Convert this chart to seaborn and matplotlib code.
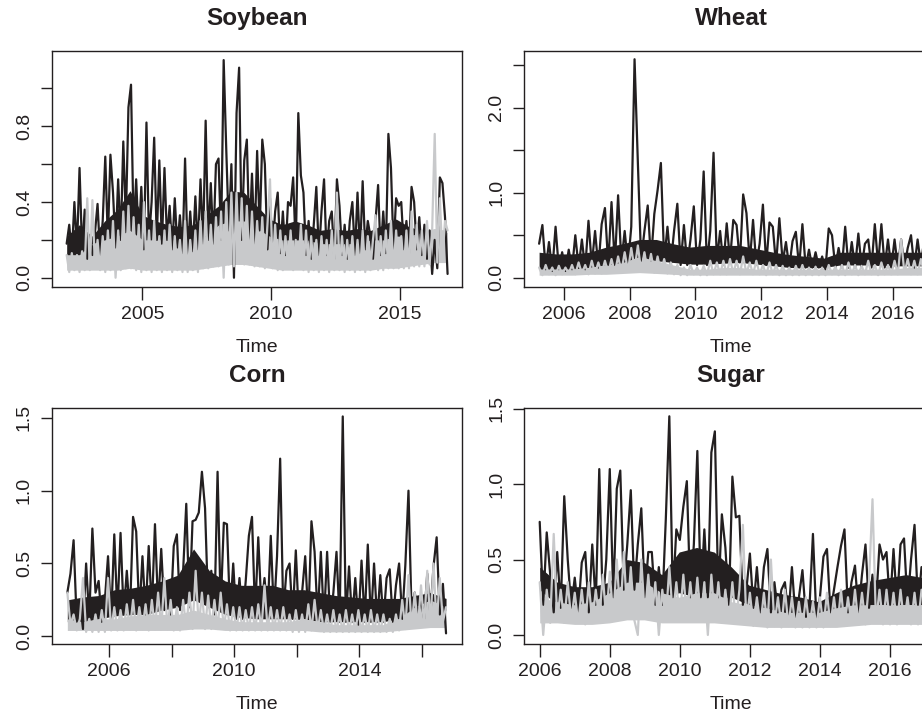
import numpy as np
import pandas as pd
import matplotlib
matplotlib.use("Agg")
import matplotlib.pyplot as plt
import seaborn as sns

# ---------------- data ----------------
# daily-looking series, sampled every 0.1 year (alternating highs / lows)
STEP = 0.1

soy_start, soy_end = 2002.06, 2016.83
soy_black = [
    0.18, 0.28, 0.12, 0.40, 0.15, 0.58, 0.14, 0.36, 0.10, 0.22,
    0.12, 0.24, 0.39, 0.12, 0.30, 0.64, 0.20, 0.65, 0.45, 0.16,
    0.52, 0.20, 0.72, 0.30, 0.90, 1.02, 0.25, 0.52, 0.20, 0.48,
    0.15, 0.82, 0.20, 0.40, 0.74, 0.20, 0.62, 0.18, 0.58, 0.20,
    0.38, 0.15, 0.42, 0.16, 0.33, 0.13, 0.63, 0.12, 0.35, 0.14,
    0.43, 0.15, 0.52, 0.18, 0.83, 0.20, 0.50, 0.18, 0.60, 0.63,
    0.20, 1.15, 0.68, 0.25, 0.60, 0.00, 0.87, 1.11, 0.20, 0.62,
    0.73, 0.20, 0.55, 0.18, 0.67, 0.25, 0.73, 0.60, 0.15, 0.42,
    0.14, 0.35, 0.45, 0.13, 0.35, 0.12, 0.40, 0.38, 0.53, 0.15,
    0.87, 0.54, 0.45, 0.12, 0.30, 0.10, 0.28, 0.48, 0.12, 0.35,
    0.52, 0.12, 0.30, 0.35, 0.10, 0.52, 0.38, 0.12, 0.28, 0.10,
    0.30, 0.40, 0.12, 0.45, 0.13, 0.51, 0.15, 0.30, 0.22, 0.10,
    0.30, 0.49, 0.12, 0.35, 0.13, 0.76, 0.58, 0.15, 0.42, 0.38,
    0.40, 0.15, 0.30, 0.13, 0.48, 0.40, 0.15, 0.32, 0.12, 0.28,
    0.10, 0.25, 0.02, 0.20, 0.05, 0.53, 0.50, 0.32, 0.02,
]
soy_grey = [
    0.12, 0.03, 0.13, 0.04, 0.12, 0.03, 0.14, 0.04, 0.42, 0.04,
    0.41, 0.05, 0.20, 0.04, 0.22, 0.03, 0.25, 0.04, 0.30, 0.00,
    0.25, 0.04, 0.35, 0.05, 0.38, 0.05, 0.32, 0.04, 0.28, 0.03,
    0.40, 0.04, 0.25, 0.03, 0.30, 0.04, 0.22, 0.03, 0.25, 0.04,
    0.28, 0.03, 0.22, 0.04, 0.20, 0.03, 0.30, 0.03, 0.20, 0.04,
    0.25, 0.03, 0.30, 0.05, 0.35, 0.05, 0.28, 0.06, 0.32, 0.06,
    0.35, 0.00, 0.40, 0.07, 0.45, 0.06, 0.45, 0.08, 0.42, 0.07,
    0.38, 0.07, 0.35, 0.06, 0.30, 0.06, 0.32, 0.05, 0.28, 0.52,
    0.05, 0.28, 0.04, 0.25, 0.04, 0.22, 0.05, 0.25, 0.04, 0.20,
    0.05, 0.28, 0.04, 0.25, 0.03, 0.22, 0.04, 0.20, 0.03, 0.22,
    0.04, 0.20, 0.03, 0.25, 0.04, 0.45, 0.04, 0.22, 0.03, 0.20,
    0.04, 0.22, 0.03, 0.20, 0.04, 0.25, 0.03, 0.22, 0.04, 0.20,
    0.33, 0.04, 0.22, 0.04, 0.25, 0.05, 0.30, 0.05, 0.25, 0.05,
    0.22, 0.05, 0.25, 0.05, 0.35, 0.06, 0.28, 0.06, 0.25, 0.06,
    0.30, 0.07, 0.25, 0.76, 0.08, 0.42, 0.10, 0.30, 0.25,
]
# dense bands (bottom / top of the solid mass), evenly spaced over the series span
soy_black_lo = [0.12, 0.12, 0.14, 0.15, 0.18, 0.20, 0.15, 0.15, 0.15, 0.14, 0.15,
                0.17, 0.22, 0.25, 0.25, 0.20, 0.17, 0.15, 0.15, 0.14, 0.12, 0.13,
                0.12, 0.12, 0.12, 0.14, 0.16, 0.15, 0.14, 0.12, 0.10]
soy_black_hi = [0.22, 0.28, 0.22, 0.30, 0.36, 0.46, 0.33, 0.30, 0.28, 0.27, 0.28,
                0.33, 0.38, 0.46, 0.45, 0.38, 0.31, 0.28, 0.30, 0.28, 0.25, 0.26,
                0.25, 0.26, 0.25, 0.28, 0.31, 0.27, 0.25, 0.24, 0.24]
soy_grey_lo = [0.04, 0.04, 0.04, 0.04, 0.04, 0.05, 0.04, 0.04, 0.04, 0.04, 0.04,
               0.05, 0.06, 0.07, 0.07, 0.06, 0.05, 0.04, 0.04, 0.04, 0.04, 0.04,
               0.04, 0.04, 0.04, 0.05, 0.05, 0.06, 0.07, 0.08, 0.08]
soy_grey_hi = [0.12, 0.12, 0.18, 0.20, 0.22, 0.25, 0.20, 0.20, 0.20, 0.20, 0.20,
               0.22, 0.28, 0.30, 0.30, 0.26, 0.22, 0.20, 0.20, 0.20, 0.18, 0.18,
               0.18, 0.18, 0.20, 0.20, 0.22, 0.22, 0.24, 0.26, 0.25]

wheat_start, wheat_end = 2005.25, 2016.95
wheat_black = [
    0.40, 0.62, 0.10, 0.42, 0.08, 0.60, 0.10, 0.30, 0.08, 0.33,
    0.10, 0.50, 0.12, 0.45, 0.10, 0.67, 0.15, 0.55, 0.12, 0.63,
    0.82, 0.15, 0.89, 0.15, 0.97, 0.18, 0.55, 0.15, 0.60, 2.57,
    1.36, 0.20, 0.55, 0.85, 0.20, 0.75, 1.03, 1.35, 0.20, 0.60,
    0.15, 0.55, 0.87, 0.15, 0.62, 0.15, 0.45, 0.84, 0.15, 0.45,
    1.25, 0.15, 0.55, 1.47, 0.20, 0.55, 0.15, 0.64, 0.20, 0.68,
    0.62, 0.18, 0.98, 0.76, 0.18, 0.68, 0.15, 0.40, 0.86, 0.15,
    0.65, 0.60, 0.15, 0.70, 0.18, 0.42, 0.12, 0.43, 0.54, 0.12,
    0.63, 0.12, 0.33, 0.12, 0.30, 0.12, 0.25, 0.10, 0.58, 0.50,
    0.12, 0.35, 0.12, 0.60, 0.12, 0.42, 0.12, 0.52, 0.12, 0.40,
    0.45, 0.12, 0.63, 0.15, 0.63, 0.12, 0.45, 0.12, 0.45, 0.12,
    0.45, 0.12, 0.35, 0.50, 0.12, 0.45, 0.15, 0.45,
]
wheat_grey = [
    0.12, 0.03, 0.15, 0.04, 0.12, 0.03, 0.14, 0.04, 0.12, 0.05,
    0.15, 0.04, 0.18, 0.05, 0.15, 0.04, 0.20, 0.05, 0.18, 0.05,
    0.20, 0.06, 0.22, 0.06, 0.25, 0.07, 0.30, 0.08, 0.35, 0.10,
    0.38, 0.08, 0.30, 0.07, 0.28, 0.06, 0.25, 0.06, 0.22, 0.05,
    0.18, 0.04, 0.15, 0.03, 0.12, 0.03, 0.15, 0.04, 0.12, 0.03,
    0.14, 0.03, 0.20, 0.04, 0.18, 0.04, 0.20, 0.04, 0.22, 0.05,
    0.20, 0.04, 0.25, 0.05, 0.18, 0.04, 0.20, 0.04, 0.15, 0.03,
    0.18, 0.04, 0.15, 0.03, 0.14, 0.03, 0.12, 0.03, 0.14, 0.03,
    0.15, 0.03, 0.12, 0.03, 0.13, 0.03, 0.12, 0.03, 0.15, 0.04,
    0.13, 0.03, 0.15, 0.03, 0.18, 0.04, 0.15, 0.03, 0.14, 0.04,
    0.20, 0.04, 0.15, 0.03, 0.18, 0.04, 0.15, 0.04, 0.20, 0.04,
    0.45, 0.05, 0.22, 0.04, 0.20, 0.04, 0.22, 0.05,
]
wheat_black_lo = [0.10, 0.10, 0.10, 0.12, 0.15, 0.17, 0.20, 0.20, 0.18, 0.16, 0.16, 0.17,
                  0.18, 0.16, 0.14, 0.12, 0.12, 0.12, 0.15, 0.15, 0.15, 0.14, 0.14, 0.14]
wheat_black_hi = [0.30, 0.28, 0.28, 0.30, 0.36, 0.40, 0.45, 0.45, 0.40, 0.36, 0.38, 0.38,
                  0.38, 0.34, 0.30, 0.27, 0.25, 0.23, 0.30, 0.30, 0.30, 0.30, 0.30, 0.30]
wheat_grey_lo = [0.03, 0.03, 0.03, 0.04, 0.04, 0.05, 0.06, 0.05, 0.04, 0.03, 0.03, 0.03,
                 0.03, 0.03, 0.03, 0.03, 0.03, 0.03, 0.03, 0.03, 0.03, 0.03, 0.03, 0.03]
wheat_grey_hi = [0.10, 0.10, 0.10, 0.12, 0.15, 0.18, 0.25, 0.20, 0.15, 0.10, 0.10, 0.12,
                 0.12, 0.10, 0.10, 0.10, 0.10, 0.10, 0.10, 0.10, 0.10, 0.10, 0.12, 0.12]

corn_start, corn_end = 2004.67, 2016.77
corn_black = [
    0.30, 0.43, 0.66, 0.10, 0.25, 0.05, 0.50, 0.12, 0.74, 0.30,
    0.38, 0.10, 0.25, 0.55, 0.12, 0.70, 0.15, 0.71, 0.15, 0.45,
    0.15, 0.82, 0.72, 0.15, 0.55, 0.15, 0.62, 0.18, 0.77, 0.20,
    0.60, 0.18, 0.30, 0.15, 0.62, 0.70, 0.18, 0.45, 0.91, 0.20,
    0.79, 0.80, 0.85, 1.13, 0.88, 0.20, 0.45, 0.15, 1.13, 0.20,
    0.78, 0.77, 0.15, 0.50, 0.12, 0.40, 0.12, 0.38, 0.69, 0.82,
    0.15, 0.68, 0.20, 0.40, 0.15, 0.69, 0.15, 0.55, 1.22, 0.15,
    0.45, 0.50, 0.12, 0.59, 0.12, 0.30, 0.55, 0.12, 0.79, 0.58,
    0.12, 0.58, 0.10, 0.58, 0.10, 0.30, 0.58, 0.10, 1.51, 0.10,
    0.48, 0.10, 0.40, 0.08, 0.52, 0.10, 0.63, 0.10, 0.50, 0.10,
    0.42, 0.10, 0.40, 0.46, 0.10, 0.35, 0.50, 0.12, 0.49, 1.00,
    0.15, 0.30, 0.15, 0.25, 0.12, 0.43, 0.15, 0.48, 0.68, 0.15,
    0.36, 0.02,
]
corn_grey = [
    0.30, 0.08, 0.15, 0.04, 0.12, 0.40, 0.03, 0.12, 0.03, 0.15,
    0.03, 0.18, 0.03, 0.40, 0.04, 0.20, 0.04, 0.18, 0.04, 0.22,
    0.05, 0.25, 0.04, 0.20, 0.05, 0.22, 0.04, 0.25, 0.05, 0.30,
    0.05, 0.40, 0.05, 0.25, 0.04, 0.20, 0.04, 0.25, 0.05, 0.30,
    0.05, 0.45, 0.06, 0.30, 0.05, 0.28, 0.05, 0.25, 0.05, 0.30,
    0.05, 0.22, 0.04, 0.20, 0.04, 0.20, 0.04, 0.18, 0.04, 0.20,
    0.04, 0.22, 0.04, 0.35, 0.04, 0.20, 0.04, 0.18, 0.04, 0.20,
    0.04, 0.15, 0.03, 0.18, 0.03, 0.15, 0.03, 0.22, 0.04, 0.25,
    0.04, 0.18, 0.03, 0.15, 0.03, 0.18, 0.03, 0.15, 0.03, 0.18,
    0.03, 0.15, 0.03, 0.18, 0.03, 0.15, 0.03, 0.18, 0.03, 0.15,
    0.03, 0.15, 0.03, 0.12, 0.03, 0.15, 0.04, 0.25, 0.05, 0.42,
    0.06, 0.30, 0.06, 0.35, 0.07, 0.45, 0.08, 0.50, 0.08, 0.40,
    0.10, 0.20,
]
corn_black_lo = [0.10, 0.10, 0.12, 0.14, 0.15, 0.15, 0.18, 0.20, 0.25, 0.20, 0.15, 0.13, 0.12,
                 0.12, 0.12, 0.12, 0.10, 0.10, 0.10, 0.10, 0.10, 0.12, 0.15, 0.18, 0.18]
corn_black_hi = [0.25, 0.27, 0.28, 0.32, 0.33, 0.35, 0.38, 0.42, 0.60, 0.45, 0.38, 0.35, 0.35,
                 0.35, 0.32, 0.32, 0.30, 0.28, 0.27, 0.26, 0.26, 0.26, 0.28, 0.30, 0.26]
corn_grey_lo = [0.04, 0.04, 0.04, 0.04, 0.04, 0.04, 0.04, 0.04, 0.05, 0.05, 0.04, 0.04, 0.04,
                0.04, 0.04, 0.04, 0.03, 0.03, 0.03, 0.03, 0.03, 0.04, 0.05, 0.06, 0.06]
corn_grey_hi = [0.12, 0.10, 0.12, 0.12, 0.14, 0.15, 0.15, 0.15, 0.18, 0.15, 0.12, 0.10, 0.10,
                0.10, 0.10, 0.12, 0.10, 0.08, 0.08, 0.08, 0.08, 0.12, 0.20, 0.25, 0.20]

sugar_start, sugar_end = 2006.0, 2016.95
sugar_black = [
    0.75, 0.20, 0.68, 0.40, 0.15, 0.55, 0.18, 0.92, 0.50, 0.18,
    0.38, 0.15, 0.48, 0.55, 0.15, 0.60, 0.20, 1.10, 0.20, 0.50,
    1.10, 0.25, 0.97, 1.09, 0.30, 0.60, 0.96, 0.30, 0.60, 0.84,
    0.25, 0.55, 0.55, 0.20, 0.45, 0.20, 0.77, 1.45, 0.25, 0.70,
    0.63, 0.85, 1.02, 0.25, 0.60, 1.22, 0.25, 0.70, 0.25, 1.21,
    1.35, 0.25, 0.80, 0.58, 0.20, 1.05, 0.78, 0.79, 0.20, 0.30,
    0.54, 0.18, 0.45, 0.15, 0.45, 0.57, 0.15, 0.35, 0.15, 0.30,
    0.35, 0.12, 0.45, 0.12, 0.25, 0.43, 0.12, 0.18, 0.67, 0.09,
    0.25, 0.52, 0.57, 0.15, 0.30, 0.45, 0.59, 0.70, 0.15, 0.35,
    0.46, 0.15, 0.40, 0.60, 0.18, 0.40, 0.20, 0.60, 0.50, 0.55,
    0.20, 0.57, 0.20, 0.60, 0.64, 0.20, 0.50, 0.73, 0.20, 0.45,
]
sugar_grey = [
    0.35, 0.00, 0.30, 0.08, 0.67, 0.10, 0.30, 0.08, 0.35, 0.10,
    0.28, 0.08, 0.30, 0.07, 0.35, 0.08, 0.30, 0.10, 0.40, 0.10,
    0.42, 0.10, 0.50, 0.12, 0.55, 0.12, 0.45, 0.10, 0.00, 0.50,
    0.12, 0.40, 0.10, 0.35, 0.00, 0.30, 0.10, 0.45, 0.12, 0.35,
    0.10, 0.40, 0.12, 0.35, 0.10, 0.38, 0.10, 0.35, 0.00, 0.40,
    0.10, 0.35, 0.08, 0.30, 0.08, 0.35, 0.08, 0.30, 0.73, 0.08,
    0.28, 0.06, 0.25, 0.06, 0.28, 0.05, 0.50, 0.06, 0.25, 0.05,
    0.30, 0.06, 0.25, 0.05, 0.22, 0.05, 0.25, 0.05, 0.22, 0.05,
    0.25, 0.05, 0.28, 0.06, 0.25, 0.06, 0.30, 0.06, 0.25, 0.07,
    0.30, 0.07, 0.28, 0.07, 0.35, 0.90, 0.08, 0.30, 0.07, 0.30,
    0.07, 0.28, 0.07, 0.30, 0.08, 0.25, 0.07, 0.28, 0.07, 0.30,
]
sugar_black_lo = [0.30, 0.20, 0.18, 0.18, 0.22, 0.30, 0.30, 0.25, 0.28, 0.25, 0.25, 0.25,
                  0.20, 0.17, 0.15, 0.13, 0.12, 0.15, 0.17, 0.20, 0.20, 0.20, 0.20]
sugar_black_hi = [0.45, 0.35, 0.32, 0.32, 0.35, 0.50, 0.48, 0.40, 0.55, 0.58, 0.55, 0.45,
                  0.33, 0.30, 0.27, 0.25, 0.22, 0.28, 0.33, 0.36, 0.38, 0.40, 0.38]
sugar_grey_lo = [0.08, 0.08, 0.07, 0.07, 0.08, 0.10, 0.10, 0.08, 0.08, 0.08, 0.08, 0.07,
                 0.06, 0.05, 0.05, 0.05, 0.05, 0.05, 0.06, 0.07, 0.07, 0.07, 0.07]
sugar_grey_hi = [0.25, 0.22, 0.20, 0.22, 0.28, 0.35, 0.35, 0.28, 0.25, 0.28, 0.28, 0.22,
                 0.20, 0.18, 0.15, 0.15, 0.15, 0.18, 0.20, 0.20, 0.20, 0.20, 0.20]

titles = ["Soybean", "Wheat", "Corn", "Sugar"]
soy_yticks = [0.0, 0.2, 0.4, 0.6, 0.8, 1.0]
soy_ylabels = ["0.0", "", "0.4", "", "0.8", ""]
wheat_yticks = [0.0, 0.5, 1.0, 1.5, 2.0, 2.5]
wheat_ylabels = ["0.0", "", "1.0", "", "2.0", ""]
corn_yticks = [0.0, 0.5, 1.0, 1.5]
corn_ylabels = ["0.0", "0.5", "1.0", "1.5"]
sugar_yticks = [0.0, 0.5, 1.0, 1.5]
sugar_ylabels = ["0.0", "0.5", "1.0", "1.5"]
soy_xticks = [2005, 2010, 2015]
soy_xlabels = ["2005", "2010", "2015"]
wheat_xticks = [2006, 2008, 2010, 2012, 2014, 2016]
wheat_xlabels = ["2006", "2008", "2010", "2012", "2014", "2016"]
corn_xticks = [2006, 2008, 2010, 2012, 2014, 2016]
corn_xlabels = ["2006", "", "2010", "", "2014", ""]
sugar_xticks = [2006, 2008, 2010, 2012, 2014, 2016]
sugar_xlabels = ["2006", "2008", "2010", "2012", "2014", "2016"]

# ---------------- style ----------------
sns.set_style("ticks")
plt.rcParams["font.family"] = ["Liberation Sans", "DejaVu Sans"]
plt.rcParams["axes.linewidth"] = 1.0
plt.rcParams["axes.edgecolor"] = "#231f20"

BLACK = "#231f20"
GREY = "#c8c9cb"

fig = plt.figure(figsize=(9.22, 7.14), dpi=100)
W, H = 922.0, 714.0

def box(l, t, r, b):
    return [l / W, 1 - b / H, (r - l) / W, (b - t) / H]

panels = [
    dict(title="Soybean", pos=box(52, 51, 462, 287), start=soy_start, end=soy_end,
         black=soy_black, grey=soy_grey, blo=soy_black_lo, bhi=soy_black_hi,
         glo=soy_grey_lo, ghi=soy_grey_hi,
         xlim=(2001.49, 2017.42), ylim=(-0.049, 1.198),
         xt=soy_xticks, xl=soy_xlabels, yt=soy_yticks, yl=soy_ylabels),
    dict(title="Wheat", pos=box(524.3, 51, 938, 287), start=wheat_start, end=wheat_end,
         black=wheat_black, grey=wheat_grey, blo=wheat_black_lo, bhi=wheat_black_hi,
         glo=wheat_grey_lo, ghi=wheat_grey_hi,
         xlim=(2004.80, 2017.37), ylim=(-0.109, 2.667),
         xt=wheat_xticks, xl=wheat_xlabels, yt=wheat_yticks, yl=wheat_ylabels),
    dict(title="Corn", pos=box(52, 408, 462, 643.7), start=corn_start, end=corn_end,
         black=corn_black, grey=corn_grey, blo=corn_black_lo, bhi=corn_black_hi,
         glo=corn_grey_lo, ghi=corn_grey_hi,
         xlim=(2004.18, 2017.28), ylim=(-0.051, 1.568),
         xt=corn_xticks, xl=corn_xlabels, yt=corn_yticks, yl=corn_ylabels),
    dict(title="Sugar", pos=box(524.3, 408, 938, 643.7), start=sugar_start, end=sugar_end,
         black=sugar_black, grey=sugar_grey, blo=sugar_black_lo, bhi=sugar_black_hi,
         glo=sugar_grey_lo, ghi=sugar_grey_hi,
         xlim=(2005.56, 2017.37), ylim=(-0.058, 1.505),
         xt=sugar_xticks, xl=sugar_xlabels, yt=sugar_yticks, yl=sugar_ylabels),
]

for p in panels:
    ax = fig.add_axes(p["pos"])
    tb = p["start"] + STEP * np.arange(len(p["black"]))
    tg = p["start"] + STEP * np.arange(len(p["grey"]))
    tband = np.linspace(p["start"], p["end"], len(p["blo"]))
    dfb = pd.DataFrame({"Time": tb, "v": p["black"]})
    dfg = pd.DataFrame({"Time": tg, "v": p["grey"]})
    # black series: dense core + spiky line
    ax.fill_between(tband, p["blo"], p["bhi"], color=BLACK, linewidth=0)
    sns.lineplot(data=dfb, x="Time", y="v", ax=ax, color=BLACK, linewidth=1.6,
                 estimator=None, sort=False)
    # grey series drawn over it
    ax.fill_between(tband, p["glo"], p["ghi"], color=GREY, linewidth=0)
    sns.lineplot(data=dfg, x="Time", y="v", ax=ax, color=GREY, linewidth=1.6,
                 estimator=None, sort=False)
    ax.set_xlim(*p["xlim"])
    ax.set_ylim(*p["ylim"])
    ax.set_xticks(p["xt"])
    ax.set_xticklabels(p["xl"], fontsize=14)
    ax.set_yticks(p["yt"])
    ax.set_yticklabels(p["yl"], fontsize=14, rotation=90, va="center")
    ax.tick_params(axis="x", length=9, width=1.0, pad=5, colors=BLACK, direction="out")
    ax.tick_params(axis="y", length=7.8, width=1.0, pad=6, colors=BLACK, direction="out")
    ax.set_ylabel("")
    ax.set_xlabel("Time", fontsize=14, color=BLACK)
    ax.xaxis.set_label_coords(0.5, -0.258)
    ax.xaxis.label.set_va("center")
    ax.set_title(p["title"], fontsize=17.5, fontweight="bold", color=BLACK, y=1.102, va="center")
    for s in ax.spines.values():
        s.set_visible(True)
        s.set_color(BLACK)

fig.savefig("out.png", dpi=100)
